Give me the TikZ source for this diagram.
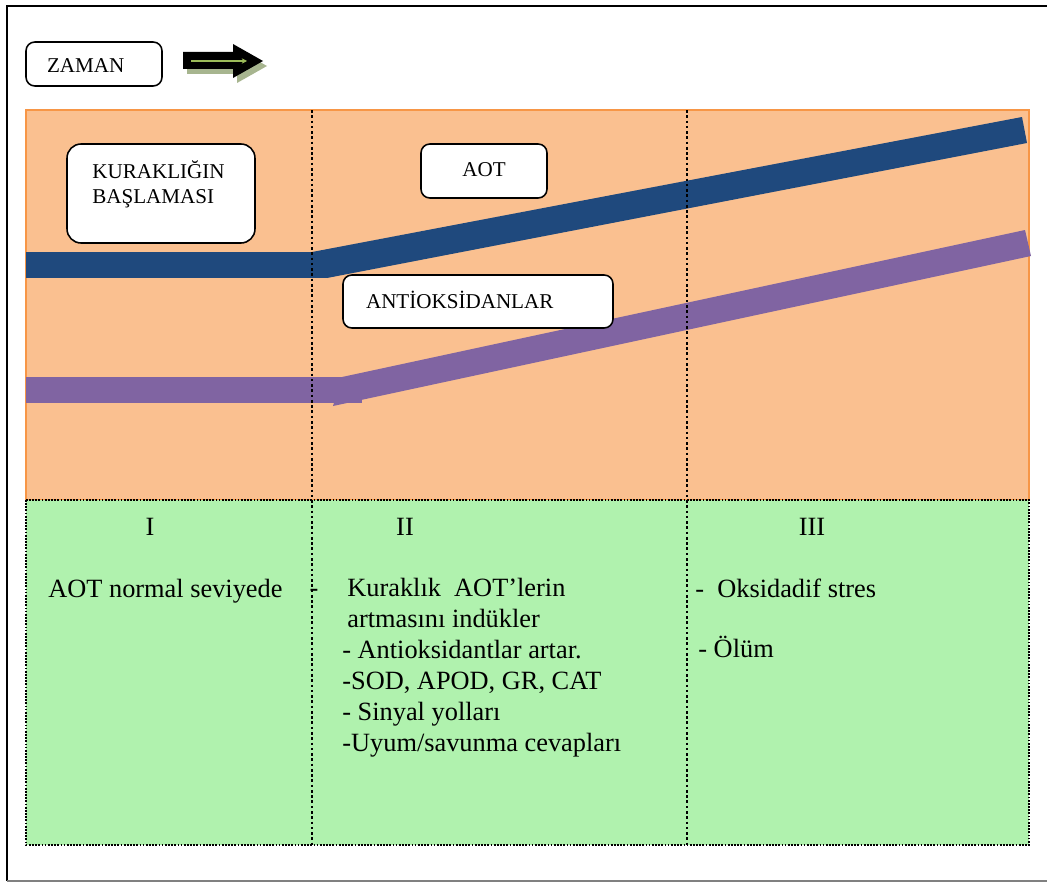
\documentclass[tikz,border=0pt]{standalone}
\usepackage{fontspec}
\setmainfont{Liberation Serif}
\usetikzlibrary{arrows.meta}
\definecolor{turuncu}{HTML}{FAC090}
\definecolor{turuncukenar}{HTML}{F79646}
\definecolor{yesil}{HTML}{B0F2AE}
\definecolor{lacivert}{HTML}{1F497D}
\definecolor{mor}{HTML}{8064A2}
\definecolor{golge}{HTML}{A7B58F}
\definecolor{okyesil}{HTML}{9BBB59}

\begin{document}
\begin{tikzpicture}[x=0.02cm,y=-0.02cm]
        \tikzstyle{kutu}=[draw, fill=white, rounded corners=5pt, line width=0.9pt,
        font=\fontsize{12}{14.2}\selectfont]
        \tikzstyle{yazi}=[inner sep=0, font=\fontsize{15}{17.6}\selectfont]
        \tikzstyle{bolme}=[line width=1.5pt, dash pattern=on 1.5pt off 1.5pt]
        \useasboundingbox (0,0) rectangle (1047,882);
        % dis cerceve
        \draw[line width=1pt] (1060,6) -- (7,6) -- (7,881);
        \draw[line width=1pt, gray] (7,881) -- (1060,881);
        % zaman
        \node[kutu, text width=1.88cm, align=left, inner xsep=0.42cm, text height=10pt, text depth=0pt, minimum height=0.88cm] (zaman) at (94,64) {ZAMAN};
        \fill[golge] (187,57) -- (237,57) -- (237,49) -- (267,66) -- (237,83) -- (237,74) -- (187,74) -- cycle;
        \fill[black] (183,52) -- (233,52) -- (233,44) -- (263,61) -- (233,78) -- (233,69) -- (183,69) -- cycle;
        \draw[okyesil, line width=0.8pt, -{Stealth[length=3pt,width=3pt]}] (191,61) -- (247,61);
        % ust panel
        \filldraw[fill=turuncu, draw=turuncukenar, line width=1pt] (26,110) rectangle (1029,500);
        \fill[lacivert] (26,252) rectangle (327,278);
        \fill[lacivert] (312,252) -- (1022,117) -- (1027,143) -- (327,278) -- cycle;
        \fill[mor] (26,377) rectangle (362,403);
        \fill[mor] (342,377) -- (1025,230) -- (1031,256) -- (333,406) -- cycle;
        \node[kutu, rounded corners=8pt, minimum width=3.76cm, minimum height=1.98cm] (kurak) at (161,193.5) {};
        \node[anchor=north west, align=left, inner sep=0, font=\fontsize{12}{14.2}\selectfont] (kuraktxt) at (92,160) {KURAKLIĞIN\\BAŞLAMASI};
        \node[kutu, minimum width=2.52cm, minimum height=1.08cm, text height=6.8pt, text depth=0pt] (aot) at (484,171) {AOT};
        \node[kutu, text width=4.48cm, align=left, inner xsep=0.46cm, text height=7.4pt, text depth=0pt, minimum height=1.06cm] (antiok) at (478,301.5) {ANTİOKSİDANLAR};
        % alt panel
        \fill[yesil] (26,500) rectangle (1029,845);
        \draw[line width=1pt, dash pattern=on 1pt off 0.8pt] (26,500) rectangle (1029,845);
        \node[yazi, anchor=base] (bir) at (150,535) {I};
        \node[yazi, anchor=base] (iki) at (405,535) {II};
        \node[yazi, anchor=base] (uc) at (812,535) {III};
        \node[yazi, anchor=base west] (birtxt) at (48,597) {AOT normal seviyede};
        \node[yazi, anchor=north west, align=left] (ikitxt) at (342,578)
        {\llap{-\hspace*{0.48cm}}\hspace*{0.1cm}Kuraklık\ \ AOT’lerin\\\hspace*{0.1cm}artmasını indükler\\- Antioksidantlar artar.\\-SOD, APOD, GR, CAT\\- Sinyal yolları\\-Uyum/savunma cevapları};
        \node[yazi, anchor=base west] (uctxt) at (695,597) {-\ \ Oksidadif stres};
        \node[yazi, anchor=base west] (oltxt) at (698,657) {- Ölüm};
        % bolme cizgileri
        \draw[bolme] (312,110) -- (312,845);
        \draw[bolme] (687,110) -- (687,845);
      \end{tikzpicture}
\end{document}
